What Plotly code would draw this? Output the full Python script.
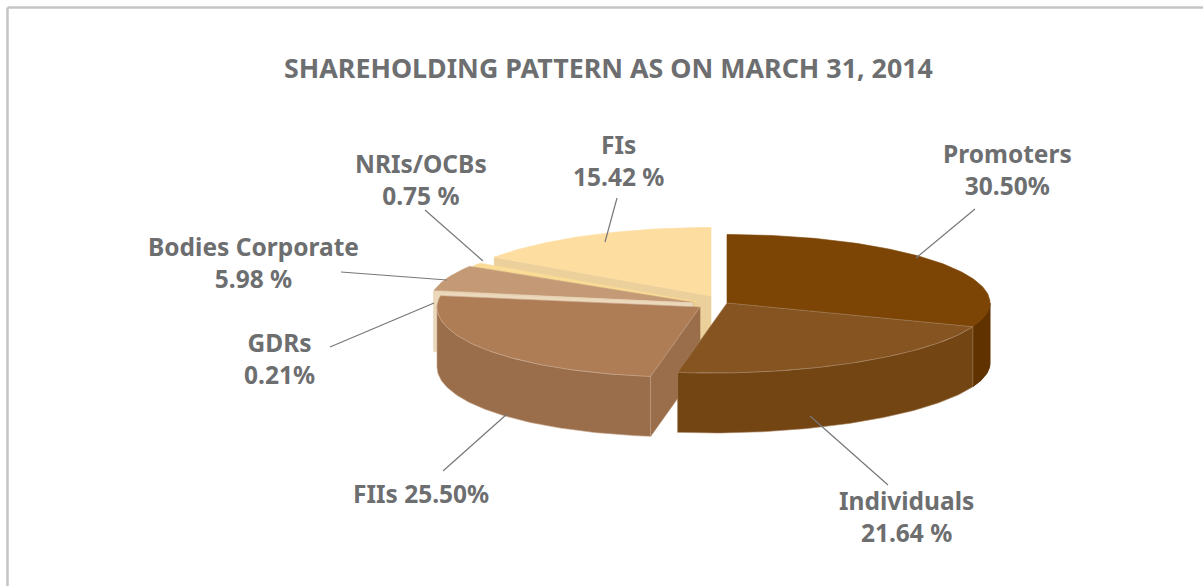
import math
import plotly.graph_objects as go

# --- data ---
categories = ["Promoters", "Individuals", "FIIs", "GDRs", "Bodies Corporate", "NRIs/OCBs", "FIs"]
values = [30.50, 21.64, 25.50, 0.21, 5.98, 0.75, 15.42]
label_texts = ["Promoters<br>30.50%", "Individuals<br>21.64 %", "FIIs 25.50%", "GDRs<br>0.21%",
               "Bodies Corporate<br>5.98 %", "NRIs/OCBs<br>0.75 %", "FIs<br>15.42 %"]
title_text = "SHAREHOLDING PATTERN AS ON MARCH 31, 2014"

# --- styles and layout ---
top_colors = ["#7c4505", "#855420", "#ae7c55", "#e9d5b8", "#c49a76", "#fbdc96", "#fddda0"]
side_colors = ["#5f3200", "#734513", "#9b6e4b", "#ecd8bb", "#b48c68", "#ebcf90", "#ebd09b"]
edge_colors = ["#7c4505", "#a5825f", "#c6a68c", "#e9d5b8", "#c49a76", "#fbdc96", "#fddda0"]
apex_x = [727, 727, 700, 693, 693, 697, 711]
apex_y = [303, 303, 307, 303, 302.5, 302, 296]
label_x = [1007, 906, 421, 279, 253, 421, 618]
label_y = [169, 516, 493, 358, 262, 179, 160]
leader_from = [(916, 258), (810, 416), (507, 414), (434, 303), (447, 280), (483, 261), (605, 242)]
leader_to = [(975, 209), (888, 485), (443, 471), (330, 347), (341, 272), (425, 210), (617, 198)]
RX, RY_BACK, RY_FRONT, DEPTH, LEAN = 263, 68.5, 70, 60, 0.00294
FONT = "Noto Sans"
TEXT = "#6d6e70"
W, H = 1203, 586


def project(i, theta, drop=0):
    dx = RX * math.sin(theta)
    c = math.cos(theta)
    dy = -(RY_BACK if c > 0 else RY_FRONT) * c
    # the tilted view leans the near half of the disc to the left
    return apex_x[i] + dx - LEAN * max(0, dy) ** 2, apex_y[i] + dy + drop


def arc(i, a0, a1, drop=0):
    n = max(2, int(abs(a1 - a0) * 60))
    return [project(i, a0 + (a1 - a0) * k / n, drop) for k in range(n + 1)]


def poly(pts, color, name, line=None):
    xs = [p[0] for p in pts] + [pts[0][0]]
    ys = [p[1] for p in pts] + [pts[0][1]]
    return go.Scatter(x=xs, y=ys, mode="lines", fill="toself", fillcolor=color, name=name,
                      line=dict(color=line or color, width=0.6), hoverinfo="name", showlegend=False)


total = sum(values)
bounds = [0.0]
for v in values:
    bounds.append(bounds[-1] + v / total * 2 * math.pi)

fig = go.Figure()
# painter's order: the far slices first, the near ones on top
for i in [6, 5, 4, 3, 2, 0, 1]:
    a0, a1 = bounds[i], bounds[i + 1]
    c = (apex_x[i], apex_y[i])
    c_low = (apex_x[i], apex_y[i] + DEPTH)
    # cut face along the leading edge of each slice on the left
    if a0 > math.pi / 2 and i != 1:
        e0 = project(i, a0)
        fig.add_trace(poly([c, e0, (e0[0], e0[1] + DEPTH), c_low], side_colors[i], categories[i]))
    # outer wall, only the part that faces the viewer
    s0, s1 = max(a0, math.pi / 2), min(a1, 1.5 * math.pi)
    if s1 > s0:
        fig.add_trace(poly(arc(i, s0, s1) + arc(i, s1, s0, DEPTH), side_colors[i], categories[i],
                           line=edge_colors[i] if i in (1, 2) else None))
    if i == 0:
        fig.add_trace(poly(arc(i, math.pi / 2 - 0.001, a1) + arc(i, a1, math.pi / 2 - 0.001, DEPTH),
                           side_colors[i], categories[i]))
    # top surface
    fig.add_trace(poly([c] + arc(i, a0, a1), top_colors[i], categories[i], line=edge_colors[i]))

shapes = [
    dict(type="line", x0=7.5, y0=7.5, x1=7.5, y1=H, line=dict(color="#c4c4c4", width=2.5)),
    dict(type="line", x0=7.5, y0=7.5, x1=W, y1=7.5, line=dict(color="#c4c4c4", width=2.5)),
]
for (x0, y0), (x1, y1) in zip(leader_from, leader_to):
    shapes.append(dict(type="line", x0=x0, y0=y0, x1=x1, y1=y1, line=dict(color="#777777", width=1.2)))

annotations = [
    dict(x=608.5, y=67, text=f"<b>{title_text}</b>", showarrow=False,
         font=dict(family=FONT, size=26.8, color=TEXT), xanchor="center", yanchor="middle")
]
for t, x, y in zip(label_texts, label_x, label_y):
    annotations.append(dict(x=x, y=y, text=f"<b>{t}</b>", showarrow=False, align="center",
                            font=dict(family=FONT, size=24.5, color=TEXT), xanchor="center", yanchor="middle"))

fig.update_layout(
    width=W, height=H, margin=dict(l=0, r=0, t=0, b=0),
    paper_bgcolor="white", plot_bgcolor="white", showlegend=False,
    xaxis=dict(range=[0, W], visible=False, fixedrange=True),
    yaxis=dict(range=[H, 0], visible=False, fixedrange=True),
    shapes=shapes, annotations=annotations,
)
fig.write_html("out.html", config=dict(displayModeBar=False),
               post_script="document.body.style.margin='0';document.body.style.overflow='hidden';")
